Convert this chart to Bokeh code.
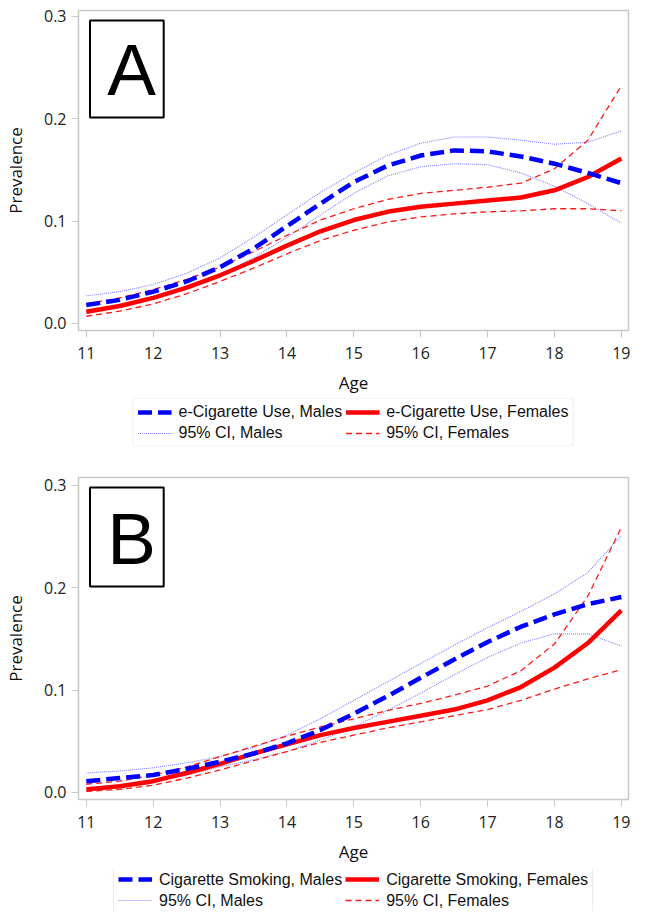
from bokeh.plotting import figure
from bokeh.models import (Range1d, FixedTicker, NumeralTickFormatter, Legend, LegendItem,
                          BoxAnnotation, ColumnDataSource)
from bokeh.layouts import column
from bokeh.core.properties import value
from bokeh.embed import file_html
from bokeh.resources import INLINE

AGE = [11, 11.5, 12, 12.5, 13, 13.5, 14, 14.5, 15, 15.5, 16, 16.5, 17, 17.5, 18, 18.5, 19]

# Panel A: e-cigarette use
ECIG_M = [0.018, 0.023, 0.031, 0.041, 0.055, 0.073, 0.095, 0.117, 0.138, 0.154, 0.164, 0.169, 0.168, 0.163, 0.156, 0.147, 0.137]
ECIG_M_HI = [0.027, 0.031, 0.038, 0.049, 0.064, 0.084, 0.106, 0.128, 0.147, 0.164, 0.176, 0.182, 0.182, 0.179, 0.175, 0.177, 0.188]
ECIG_M_LO = [0.010, 0.016, 0.024, 0.034, 0.047, 0.064, 0.084, 0.106, 0.127, 0.144, 0.153, 0.156, 0.155, 0.147, 0.134, 0.117, 0.098]
ECIG_F = [0.0115, 0.017, 0.025, 0.035, 0.047, 0.061, 0.076, 0.090, 0.101, 0.109, 0.114, 0.117, 0.120, 0.123, 0.130, 0.143, 0.161]
ECIG_F_HI = [0.019, 0.025, 0.033, 0.043, 0.055, 0.070, 0.086, 0.101, 0.112, 0.121, 0.127, 0.130, 0.133, 0.137, 0.151, 0.179, 0.232]
ECIG_F_LO = [0.007, 0.012, 0.019, 0.029, 0.041, 0.054, 0.068, 0.081, 0.091, 0.099, 0.104, 0.107, 0.109, 0.110, 0.112, 0.112, 0.110]

# Panel B: cigarette smoking
CIG_M = [0.011, 0.014, 0.017, 0.023, 0.030, 0.038, 0.048, 0.061, 0.077, 0.094, 0.112, 0.130, 0.147, 0.162, 0.174, 0.184, 0.191]
CIG_M_HI = [0.019, 0.021, 0.024, 0.029, 0.035, 0.044, 0.056, 0.072, 0.090, 0.108, 0.126, 0.144, 0.161, 0.177, 0.194, 0.215, 0.251]
CIG_M_LO = [0.005, 0.007, 0.011, 0.017, 0.025, 0.032, 0.040, 0.051, 0.064, 0.080, 0.097, 0.115, 0.132, 0.146, 0.155, 0.155, 0.143]
CIG_F = [0.003, 0.006, 0.011, 0.019, 0.028, 0.038, 0.047, 0.056, 0.063, 0.069, 0.075, 0.081, 0.090, 0.103, 0.122, 0.146, 0.178]
CIG_F_HI = [0.008, 0.011, 0.017, 0.025, 0.035, 0.045, 0.055, 0.064, 0.072, 0.080, 0.087, 0.095, 0.104, 0.119, 0.145, 0.192, 0.259]
CIG_F_LO = [0.001, 0.003, 0.007, 0.014, 0.022, 0.031, 0.040, 0.049, 0.056, 0.063, 0.069, 0.075, 0.081, 0.090, 0.101, 0.111, 0.120]

X_TICKS = [11, 12, 13, 14, 15, 16, 17, 18, 19]
Y_TICKS = [0.0, 0.1, 0.2, 0.3]

GRAY = "#c8c8c8"
TICK_FONT = "Open Sans"
LEG_FONT = "Liberation Sans"

STYLE_M = dict(line_color="#0000ff", line_width=4.5, line_dash="14 6")
STYLE_F = dict(line_color="#ff0000", line_width=4.5)
STYLE_MCI = dict(line_color="#8080ff", line_width=1.1, line_dash="1 1")
STYLE_FCI = dict(line_color="#ff1a1a", line_width=1.3, line_dash="6 4")


def make_panel(letter, m, m_hi, m_lo, f, f_hi, f_lo, y_top, border_top, frame_h, fig_h):
    p = figure(width=637, height=fig_h, output_backend="svg", toolbar_location=None,
               x_range=Range1d(10.883, 19.107), y_range=Range1d(-0.0069, y_top),
               min_border_left=73, min_border_right=9, min_border_top=border_top,
               min_border_bottom=fig_h - border_top - frame_h)
    p.grid.visible = False
    p.outline_line_color = GRAY
    p.outline_line_width = 1.5
    p.background_fill_color = "white"
    p.border_fill_color = "white"

    for ax in (p.xaxis[0], p.yaxis[0]):
        ax.axis_line_color = GRAY
        ax.major_tick_line_color = GRAY
        ax.major_tick_out = 7
        ax.major_tick_in = 0
        ax.minor_tick_line_color = None
        ax.major_label_text_font = TICK_FONT
        ax.major_label_text_font_size = "16px"
        ax.major_label_text_color = "#222222"
        ax.axis_label_text_font = TICK_FONT
        ax.axis_label_text_font_size = "17px"
        ax.axis_label_text_font_style = "normal"
        ax.axis_label_text_color = "#111111"
    p.xaxis.ticker = FixedTicker(ticks=X_TICKS)
    p.yaxis.ticker = FixedTicker(ticks=Y_TICKS)
    p.yaxis.formatter = NumeralTickFormatter(format="0.0")
    p.xaxis.axis_label = "Age"
    p.yaxis.axis_label = "Prevalence"
    p.xaxis.major_label_standoff = 9
    p.yaxis.major_label_standoff = 5
    p.xaxis.axis_label_standoff = 9
    p.yaxis.axis_label_standoff = 14

    src = ColumnDataSource(dict(age=AGE, m=m, m_hi=m_hi, m_lo=m_lo, f=f, f_hi=f_hi, f_lo=f_lo))
    p.line("age", "m_hi", source=src, **STYLE_MCI)
    p.line("age", "m_lo", source=src, **STYLE_MCI)
    p.line("age", "f_hi", source=src, **STYLE_FCI)
    p.line("age", "f_lo", source=src, **STYLE_FCI)
    p.line("age", "f", source=src, **STYLE_F)
    p.line("age", "m", source=src, **STYLE_M)

    box = BoxAnnotation(left=11.055, right=12.157, top=y_top - 0.0098, bottom=0.2012,
                        fill_color=None, line_color="black", line_alpha=1.0, line_width=2,
                        level="underlay")
    p.add_layout(box)
    p.text(x=[11.676], y=[0.248], text=[letter], text_font=value("Liberation Sans"),
           text_font_size="73px", text_align="center", text_baseline="middle",
           text_color="black")
    return p


def make_legend(name, fig_h):
    lf = figure(width=637, height=fig_h, output_backend="svg", toolbar_location=None,
                x_range=Range1d(0, 1), y_range=Range1d(0, 1),
                x_axis_type=None, y_axis_type=None,
                min_border_left=73, min_border_right=9, min_border_top=0, min_border_bottom=0)
    lf.grid.visible = False
    lf.outline_line_color = None
    lf.border_fill_color = "white"
    # proxy renderers (outside the visible range) that only feed the legend
    src = ColumnDataSource(dict(x=[-5, -4], y=[-5, -5]))
    r_m = lf.line("x", "y", source=src, **STYLE_M)
    r_f = lf.line("x", "y", source=src, **STYLE_F)
    r_mci = lf.line("x", "y", source=src, **STYLE_MCI)
    r_fci = lf.line("x", "y", source=src, **STYLE_FCI)
    legend = Legend(items=[
        LegendItem(label=name + ", Males", renderers=[r_m]),
        LegendItem(label="95% CI, Males", renderers=[r_mci]),
        LegendItem(label=name + ", Females", renderers=[r_f]),
        LegendItem(label="95% CI, Females", renderers=[r_fci]),
    ], location="center", orientation="vertical", nrows=2)
    legend.label_text_font = LEG_FONT
    legend.label_text_font_size = "16px"
    legend.label_text_color = "#111111"
    legend.glyph_width = 34
    legend.glyph_height = 17
    legend.label_height = 17
    legend.label_standoff = 7
    legend.padding = 4
    legend.spacing = 3
    legend.margin = 0
    legend.border_line_color = "#dcdcdc"
    legend.border_line_width = 1
    legend.background_fill_color = "white"
    lf.add_layout(legend, "center")
    return lf


pA = make_panel("A", ECIG_M, ECIG_M_HI, ECIG_M_LO, ECIG_F, ECIG_F_HI, ECIG_F_LO,
                0.3056, 10, 320, 398)
lA = make_legend("e-Cigarette Use", 48)
pB = make_panel("B", CIG_M, CIG_M_HI, CIG_M_LO, CIG_F, CIG_F_HI, CIG_F_LO,
                0.3078, 31, 322, 422)
lB = make_legend("Cigarette Smoking", 43)

layout = column(pA, lA, pB, lB, spacing=0)
open("out.html", "w").write(file_html(layout, INLINE))
